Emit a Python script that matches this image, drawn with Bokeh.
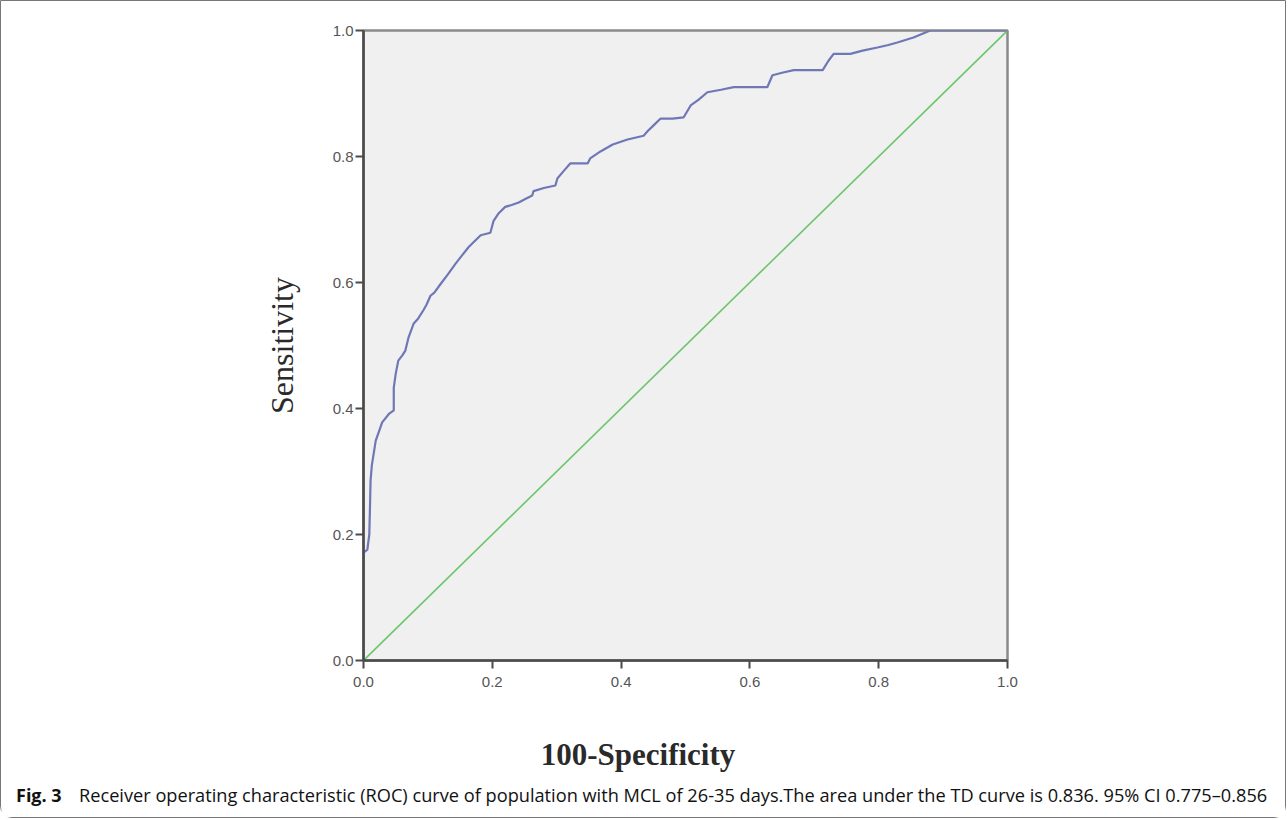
from bokeh.plotting import figure
from bokeh.models import Range1d, FixedTicker
from bokeh.layouts import column
from bokeh.core.properties import value
from bokeh.embed import file_html
from bokeh.resources import INLINE

# ROC curve (1 - specificity, sensitivity)
fpr = [0.000, 0.000, 0.006, 0.009, 0.010, 0.011, 0.013, 0.019, 0.029, 0.040,
       0.047, 0.047, 0.050, 0.054, 0.060, 0.065, 0.070, 0.078, 0.085, 0.093,
       0.098, 0.104, 0.110, 0.120, 0.131, 0.143, 0.153, 0.163, 0.172, 0.182,
       0.197, 0.202, 0.210, 0.220, 0.230, 0.241, 0.252, 0.262, 0.264, 0.280,
       0.298, 0.301, 0.310, 0.321, 0.335, 0.348, 0.352, 0.368, 0.387, 0.410,
       0.435, 0.441, 0.452, 0.461, 0.480, 0.497, 0.508, 0.520, 0.534, 0.555,
       0.575, 0.600, 0.627, 0.635, 0.650, 0.668, 0.690, 0.713, 0.722, 0.730,
       0.756, 0.775, 0.798, 0.815, 0.829, 0.854, 0.868, 0.880, 0.920, 1.000]
tpr = [0.000, 0.171, 0.176, 0.200, 0.240, 0.286, 0.310, 0.349, 0.378, 0.392,
       0.397, 0.433, 0.455, 0.476, 0.484, 0.492, 0.513, 0.535, 0.543, 0.556,
       0.565, 0.579, 0.584, 0.598, 0.613, 0.630, 0.643, 0.656, 0.665, 0.675,
       0.679, 0.698, 0.710, 0.720, 0.723, 0.727, 0.733, 0.738, 0.745, 0.750,
       0.754, 0.765, 0.776, 0.789, 0.789, 0.789, 0.797, 0.808, 0.819, 0.827,
       0.833, 0.840, 0.851, 0.860, 0.860, 0.862, 0.881, 0.890, 0.902, 0.906,
       0.910, 0.910, 0.910, 0.929, 0.933, 0.937, 0.937, 0.937, 0.952, 0.963,
       0.963, 0.968, 0.973, 0.977, 0.981, 0.989, 0.995, 1.000, 1.000, 1.000]

ref_x = [0.0, 1.0]
ref_y = [0.0, 1.0]

ticks = [0.0, 0.2, 0.4, 0.6, 0.8, 1.0]
tick_labels = {0.0: "0.0", 0.2: "0.2", 0.4: "0.4", 0.6: "0.6", 0.8: "0.8", 1.0: "1.0"}

x_title = "100-Specificity"
y_title = "Sensitivity"
cap_bold = "Fig. 3"
cap_text = ("Receiver operating characteristic (ROC) curve of population with MCL of 26-35 days."
            "The area under the TD curve is 0.836. 95% CI 0.775\u20130.856")

W = 1284
H_MAIN = 718
H_CAP = 98
OX, OY = 1.5, 1.5   # page offset of the children (border width)

p = figure(width=W, height=H_MAIN, output_backend="svg", toolbar_location=None,
           x_range=Range1d(0, 1), y_range=Range1d(0, 1),
           min_border_left=362, min_border_right=W - 362 - 644,
           min_border_top=29, min_border_bottom=H_MAIN - 29 - 630)
p.frame_align = False
p.background_fill_color = "#f0f0f0"
p.border_fill_color = "white"
p.outline_line_color = "#8a8a8a"
p.outline_line_width = 2.5
p.xgrid.visible = False
p.ygrid.visible = False

for ax in (p.xaxis[0], p.yaxis[0]):
    ax.ticker = FixedTicker(ticks=ticks)
    ax.major_label_overrides = tick_labels
    ax.axis_line_color = "#4a4a4a"
    ax.axis_line_width = 2.5
    ax.major_tick_line_color = "#4a4a4a"
    ax.major_tick_line_width = 2
    ax.major_tick_out = 8
    ax.major_tick_in = 0
    ax.minor_tick_line_color = None
    ax.major_label_text_font = "Liberation Sans"
    ax.major_label_text_font_size = "15px"
    ax.major_label_text_color = "#555555"
p.yaxis.major_label_standoff = 2
p.xaxis.major_label_standoff = 8

p.yaxis.axis_label = y_title
p.yaxis.axis_label_text_font = "Liberation Serif"
p.yaxis.axis_label_text_font_size = "32px"
p.yaxis.axis_label_text_font_style = "normal"
p.yaxis.axis_label_text_color = "#2a2a2a"
p.yaxis.axis_label_standoff = 30

p.line(ref_x, ref_y, line_color="#6cc66c", line_width=1.6)
p.line(fpr, tpr, line_color="#6f77b6", line_width=2.2)

# caption strip below the chart (pixel coordinates, top-down)
c = figure(width=W, height=H_CAP, output_backend="svg", toolbar_location=None,
           x_range=Range1d(0, W), y_range=Range1d(H_CAP, 0),
           min_border=0, x_axis_type=None, y_axis_type=None)
c.frame_align = False
c.outline_line_color = None
c.background_fill_color = "white"
c.border_fill_color = "white"
c.xgrid.visible = False
c.ygrid.visible = False

top = H_MAIN + OY
c.text(x=[638 - OX], y=[754 - top], text=[x_title], text_font=value("Liberation Serif"),
       text_font_style="bold", text_font_size="31px", text_color="#2a2a2a",
       text_align="center", text_baseline="middle")
c.text(x=[16 - OX], y=[795 - top], text=[cap_bold], text_font=value("Open Sans"),
       text_font_style="bold", text_font_size="18px", text_color="#111111",
       text_align="left", text_baseline="middle")
c.text(x=[79 - OX], y=[795 - top], text=[cap_text], text_font=value("Open Sans"),
       text_font_size="18.2px", text_color="#111111", text_align="left",
       text_baseline="middle")

layout = column(p, c, spacing=0)
layout.styles = {"border": "1.5px solid #777777", "border-radius": "0 0 12px 12px",
                 "box-sizing": "content-box"}

open("out.html", "w").write(file_html(layout, INLINE))
